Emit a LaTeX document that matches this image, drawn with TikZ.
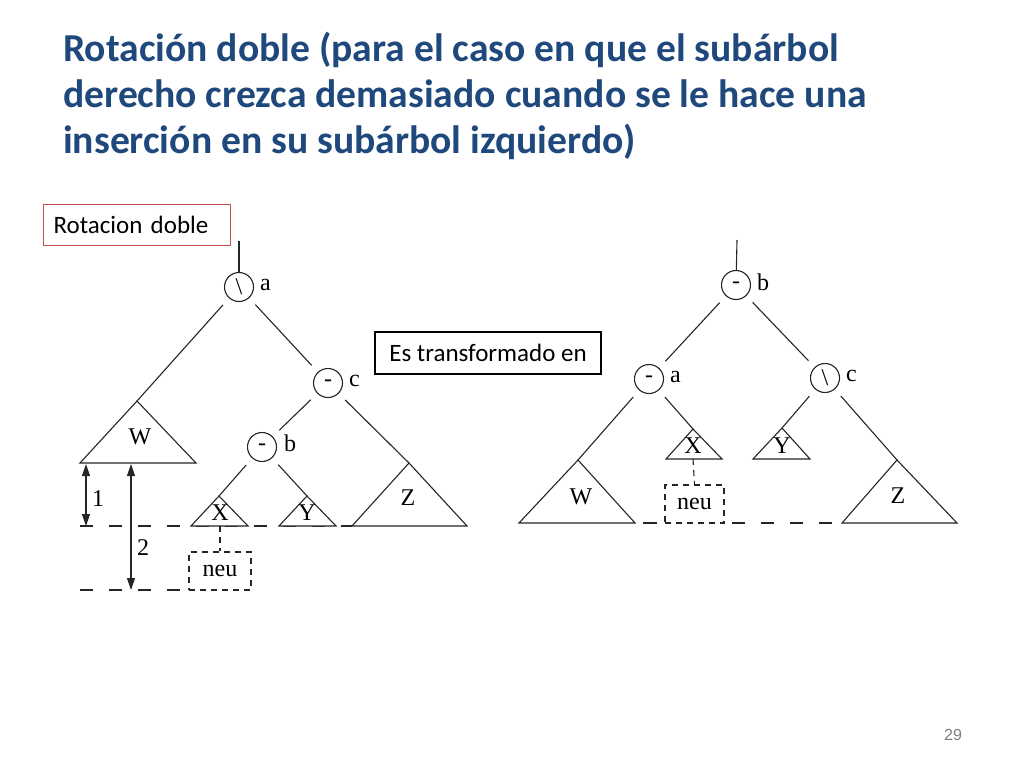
\documentclass[tikz,border=0pt]{standalone}
\usepackage{fontspec}
\setmainfont{Carlito}
\newfontfamily\treefont{Liberation Serif}
\newfontfamily\pgfont{Liberation Sans}
\usetikzlibrary{arrows.meta,calc}
\definecolor{titleblue}{HTML}{1F497D}
\definecolor{boxred}{HTML}{C0504D}
\begin{document}
\begin{tikzpicture}[x=1pt,y=-1pt,
  tline/.style={line width=1.1pt, draw=black!85},
  cnode/.style={circle, draw=black!85, line width=1.1pt, minimum size=29pt, inner sep=0pt,
                font=\treefont\fontsize{24}{24}\selectfont},
  lbl/.style={font=\treefont\fontsize{24}{24}\selectfont, inner sep=0pt},
  cedge/.style={tline, shorten <=9pt},
  ccedge/.style={tline, shorten <=9pt, shorten >=9pt},
  levelline/.style={line width=1.1pt, draw=black!85, dash pattern=on 13pt off 16pt},
  fineline/.style={line width=1.1pt, draw=black!85, dash pattern=on 6pt off 5pt},
  dimline/.style={line width=1.1pt, draw=black!85,
                  {Triangle[length=12pt,width=8pt]}-{Triangle[length=12pt,width=8pt]}},
  titletext/.style={anchor=base west, inner sep=0pt, text=titleblue,
                    font=\bfseries\fontsize{39.6}{46}\selectfont},
  neubox/.style={draw=black!85, fineline, lbl, minimum height=38pt},
]
\fill[white] (0,0) rectangle (1024,768);
\useasboundingbox (0,0) rectangle (1024,768);

% ---- title ----
\node[titletext] (t1) at (63,61) {Rotación doble (para el caso en que el subárbol};
\node[titletext] (t2) at (63,107) {derecho crezca demasiado cuando se le hace una};
\node[titletext] (t3) at (63,153) {inserción en su subárbol izquierdo)};

% ---- boxes ----
\node[draw=boxred, line width=1pt, anchor=west, text width=167pt, align=left,
      inner xsep=10pt, minimum height=41pt, font=\fontsize{25}{25}\selectfont] (rot) at (43,225) {Rotacion doble};
\node[draw=black, line width=2pt, minimum width=226pt, minimum height=42pt,
      font=\fontsize{25}{25}\selectfont] (trans) at (488,353) {Es transformado en};

\node[font=\pgfont\fontsize{16}{16}\selectfont, text=black!50] (pg) at (953,735) {29};

% ================= left tree =================
\coordinate (Lroot) at (239,241);
\node[cnode] (La) at (239,287) {\textbackslash};
\node[cnode] (Lc) at (328,383) {-};
\node[cnode] (Lb) at (262,447) {-};
\node[lbl, anchor=west] (Lla) at (260,285) {a};
\node[lbl, anchor=west] (Llc) at (349,381) {c};
\node[lbl, anchor=west] (Llb) at (284,443) {b};

% level lines (drawn first, triangles on top)
\draw[levelline] (80,526) -- (352,526);
\draw[levelline] (80,590) -- (189,590);

% subtrees
\coordinate (LWt) at (137,401); \coordinate (LWl) at (80,463); \coordinate (LWr) at (196,463);
\coordinate (LXt) at (219,496); \coordinate (LXl) at (191,526); \coordinate (LXr) at (248,526);
\coordinate (LYt) at (307,496); \coordinate (LYl) at (279,526); \coordinate (LYr) at (336,526);
\coordinate (LZt) at (409,463); \coordinate (LZl) at (352,526); \coordinate (LZr) at (467,526);
\draw[tline, fill=white] (LWt) -- (LWl) -- (LWr) -- cycle;
\draw[tline, fill=white] (LXt) -- (LXl) -- (LXr) -- cycle;
\draw[tline, fill=white] (LYt) -- (LYl) -- (LYr) -- cycle;
\draw[tline, fill=white] (LZt) -- (LZl) -- (LZr) -- cycle;
\node[lbl] (LW) at (140,437) {W};
\node[lbl] (LX) at (220,513) {X};
\node[lbl] (LY) at (307,513) {Y};
\node[lbl] (LZ) at (408,498) {Z};

\draw[tline] (Lroot) -- (La);
\draw[cedge] (La) -- (LWt);
\draw[ccedge] (La) -- (Lc);
\draw[ccedge] (Lc) -- (Lb);
\draw[cedge] (Lc) -- (LZt);
\draw[cedge] (Lb) -- (LXt);
\draw[cedge] (Lb) -- (LYt);

% inserted node
\node[neubox, minimum width=62pt] (Lneu) at (220,571) {neu};
\coordinate (LXb) at (220,526);
\draw[fineline] (LXb) -- (Lneu.north);

% height marks
\coordinate (d1a) at (86,464); \coordinate (d1b) at (86,526);
\coordinate (d2a) at (131,464); \coordinate (d2b) at (131,590);
\draw[dimline] (d1a) -- (d1b);
\draw[dimline] (d2a) -- (d2b);
\node[lbl] (n1) at (98,499) {1};
\node[lbl] (n2) at (143,548) {2};

% ================= right tree =================
\coordinate (Rroot) at (737,240);
\node[cnode] (Rb) at (736,285) {-};
\node[cnode] (Ra) at (649,379) {-};
\node[cnode] (Rc) at (825,378) {\textbackslash};
\node[lbl, anchor=west] (Rlb) at (757,282) {b};
\node[lbl, anchor=west] (Rla) at (670,377) {a};
\node[lbl, anchor=west] (Rlc) at (846,376) {c};

\draw[tline] (643,523) -- (657,523);
\draw[levelline] (732,523) -- (842,523);

\coordinate (RWt) at (578,460); \coordinate (RWl) at (519,523); \coordinate (RWr) at (635,523);
\coordinate (RXt) at (693,429); \coordinate (RXl) at (666,459); \coordinate (RXr) at (722,459);
\coordinate (RYt) at (782,428); \coordinate (RYl) at (753,459); \coordinate (RYr) at (810,459);
\coordinate (RZt) at (897,460); \coordinate (RZl) at (842,523); \coordinate (RZr) at (957,523);
\draw[tline, fill=white] (RWt) -- (RWl) -- (RWr) -- cycle;
\draw[tline, fill=white] (RXt) -- (RXl) -- (RXr) -- cycle;
\draw[tline, fill=white] (RYt) -- (RYl) -- (RYr) -- cycle;
\draw[tline, fill=white] (RZt) -- (RZl) -- (RZr) -- cycle;
\node[lbl] (RW) at (581,497) {W};
\node[lbl] (RX) at (693,446) {X};
\node[lbl] (RY) at (782,446) {Y};
\node[lbl] (RZ) at (898,496) {Z};

\draw[tline] (Rroot) -- (Rb);
\draw[ccedge] (Rb) -- (Ra);
\draw[ccedge] (Rb) -- (Rc);
\draw[cedge] (Ra) -- (RWt);
\draw[cedge] (Ra) -- (RXt);
\draw[cedge] (Rc) -- (RYt);
\draw[cedge] (Rc) -- (RZt);

\node[neubox, minimum width=59pt] (Rneu) at (694.5,504) {neu};
\coordinate (RXb) at (693,459);
\draw[fineline] (RXb) -- (Rneu.north);
\end{tikzpicture}
\end{document}
